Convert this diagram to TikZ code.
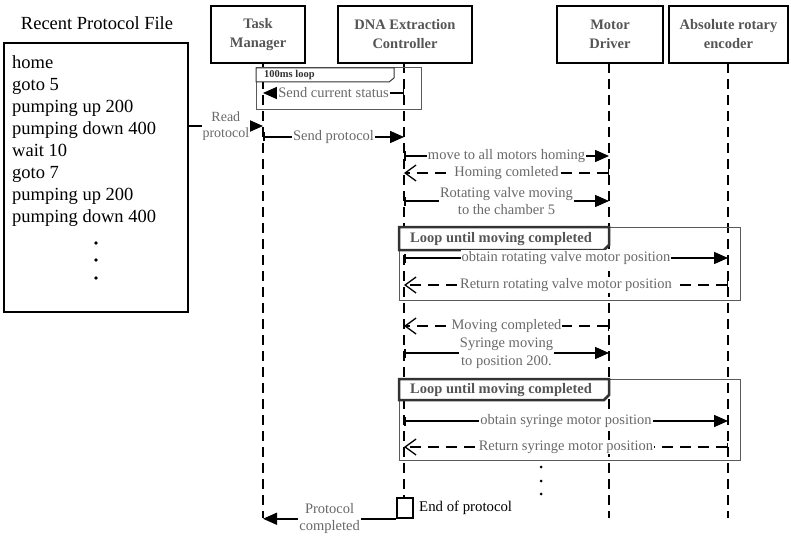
\documentclass[tikz,border=0pt]{standalone}
\usepackage{fontspec}
\setmainfont{Liberation Serif}
\usetikzlibrary{arrows.meta,calc}
\definecolor{lblgray}{RGB}{105,105,105}
\definecolor{hdrgray}{RGB}{85,85,85}
\definecolor{framegray}{RGB}{90,90,90}
\begin{document}
\begin{tikzpicture}[x=1pt,y=-1pt,
 hdr/.style={draw,line width=1.4pt,minimum height=57pt,align=center,inner sep=0pt,font=\fontsize{14.5}{19}\selectfont\bfseries,text=hdrgray},
 life/.style={line width=1.8pt,dash pattern=on 10pt off 6pt},
 msgline/.style={line width=1.5pt,-{Triangle[length=14pt,width=12pt]}},
 msg/.style={line width=1.5pt,{Bar[width=9pt,line width=1.5pt]}-{Triangle[length=14pt,width=12pt]}},
 ret/.style={line width=1.5pt,dash pattern=on 11pt off 7pt,{Bar[width=9pt,line width=1.5pt]}-{Straight Barb[length=11pt,width=16pt,line width=1.3pt]}},
 lbl/.style={fill=white,inner sep=1pt,text=lblgray,font=\fontsize{14.5}{17.5}\selectfont,align=center},
 frame/.style={draw=framegray,line width=1pt},
 tab/.style={draw=black!80,line width=2.5pt,fill=white},
 tablbl/.style={anchor=west,inner sep=0pt,text=hdrgray,font=\fontsize{14.5}{16}\selectfont\bfseries},
]
\useasboundingbox[fill=white] (0,0) rectangle (791,540);

% protocol file
\node[font=\fontsize{18.5}{22}\selectfont] (title) at (97,23) {Recent Protocol File};
\node[draw,line width=1.4pt,minimum width=184pt,minimum height=269pt,inner sep=0pt] (fb) at (96,177.5) {};
\node[anchor=west,align=left,inner sep=0pt,font=\fontsize{18.5}{22}\selectfont] (ft) at (12,141)
 {home\\goto 5\\pumping up 200\\pumping down 400\\wait 10\\goto 7\\pumping up 200\\pumping down 400};
\fill (96,243) circle (1.8) (96,260) circle (1.8) (96,278) circle (1.8);

% headers
\node[hdr,minimum width=94pt] (tm) at (258,34.5) {Task\\Manager};
\node[hdr,minimum width=134pt] (dc) at (405,34.5) {DNA Extraction\\Controller};
\node[hdr,minimum width=106pt] (md) at (610,34.5) {Motor\\Driver};
\node[hdr,minimum width=119pt] (en) at (728.5,34.5) {Absolute rotary\\encoder};

% lifelines
\coordinate (tmT) at (263,63); \coordinate (tmB) at (263,518);
\coordinate (dcT) at (404,63); \coordinate (dcB) at (404,498);
\coordinate (mdT) at (609,63); \coordinate (mdB) at (609,518);
\coordinate (enT) at (728,63); \coordinate (enB) at (728,518);
\draw[life] (tmT) -- (tmB);
\draw[life] (dcT) -- (dcB);
\draw[life] (mdT) -- (mdB);
\draw[life] (enT) -- (enB);

% 100 ms loop
\draw[frame] (256,68) rectangle (421,110);
\draw[draw=black!80,line width=1pt,fill=white] (256,68) -- (394,68) -- (394,78) -- (389,82) -- (256,82) -- cycle;
\node[anchor=west,inner sep=0pt,font=\fontsize{10.5}{12}\selectfont\bfseries,text=black!80] (l100) at (264,75) {100ms loop};
\draw[msg] (dcT |- 0,93) -- node[lbl]{Send current status} (tmT |- 0,93);

% messages
\draw[msgline] (fb.east |- 0,126) -- node[lbl,font=\fontsize{14}{16}\selectfont]{Read\\protocol} (tmT |- 0,126);
\draw[msg] (tmT |- 0,137) -- node[lbl]{Send protocol} (dcT |- 0,137);
\draw[msg] (dcT |- 0,156) -- node[lbl]{move to all motors homing} (mdT |- 0,156);
\draw[ret] (mdT |- 0,173) -- node[lbl]{Homing comleted} (dcT |- 0,173);
\draw[msg] (dcT |- 0,201) -- node[lbl]{Rotating valve moving\\to the chamber 5} (mdT |- 0,201);

% loop 1
\draw[frame] (399,227) rectangle (740,300);
\draw[tab] (399,227) -- (609,227) -- (609,245) -- (604,250) -- (399,250) -- cycle;
\node[tablbl] (loop1) at (410,239) {Loop until moving completed};
\draw[msg] (dcT |- 0,258) -- node[lbl]{obtain rotating valve motor position} (enT |- 0,258);
\draw[ret] (enT |- 0,285) -- node[lbl]{Return rotating valve motor position} (dcT |- 0,285);

\draw[ret] (mdT |- 0,326) -- node[lbl]{Moving completed} (dcT |- 0,326);
\draw[msg] (dcT |- 0,353) -- node[lbl]{Syringe moving\\to position 200.} (mdT |- 0,353);

% loop 2
\draw[frame] (399,379) rectangle (740,460);
\draw[tab] (399,379) -- (609,379) -- (609,395) -- (604,400) -- (399,400) -- cycle;
\node[tablbl] (loop2) at (410,390) {Loop until moving completed};
\draw[msg] (dcT |- 0,421) -- node[lbl]{obtain syringe motor position} (enT |- 0,421);
\draw[ret] (enT |- 0,447) -- node[lbl]{Return syringe motor position} (dcT |- 0,447);

\fill (541,467) circle (1.5) (541,481) circle (1.5) (541,494) circle (1.5);

% end of protocol
\node[draw,line width=1.5pt,fill=white,minimum width=16pt,minimum height=20pt,inner sep=0pt] (act) at (405,508) {};
\node[anchor=west,inner sep=0pt,font=\fontsize{14.8}{17}\selectfont] (eop) at (419,508) {End of protocol};
\draw[msgline] (act.south west) -- node[lbl]{Protocol\\completed} (tmT |- act.south);
\end{tikzpicture}
\end{document}
